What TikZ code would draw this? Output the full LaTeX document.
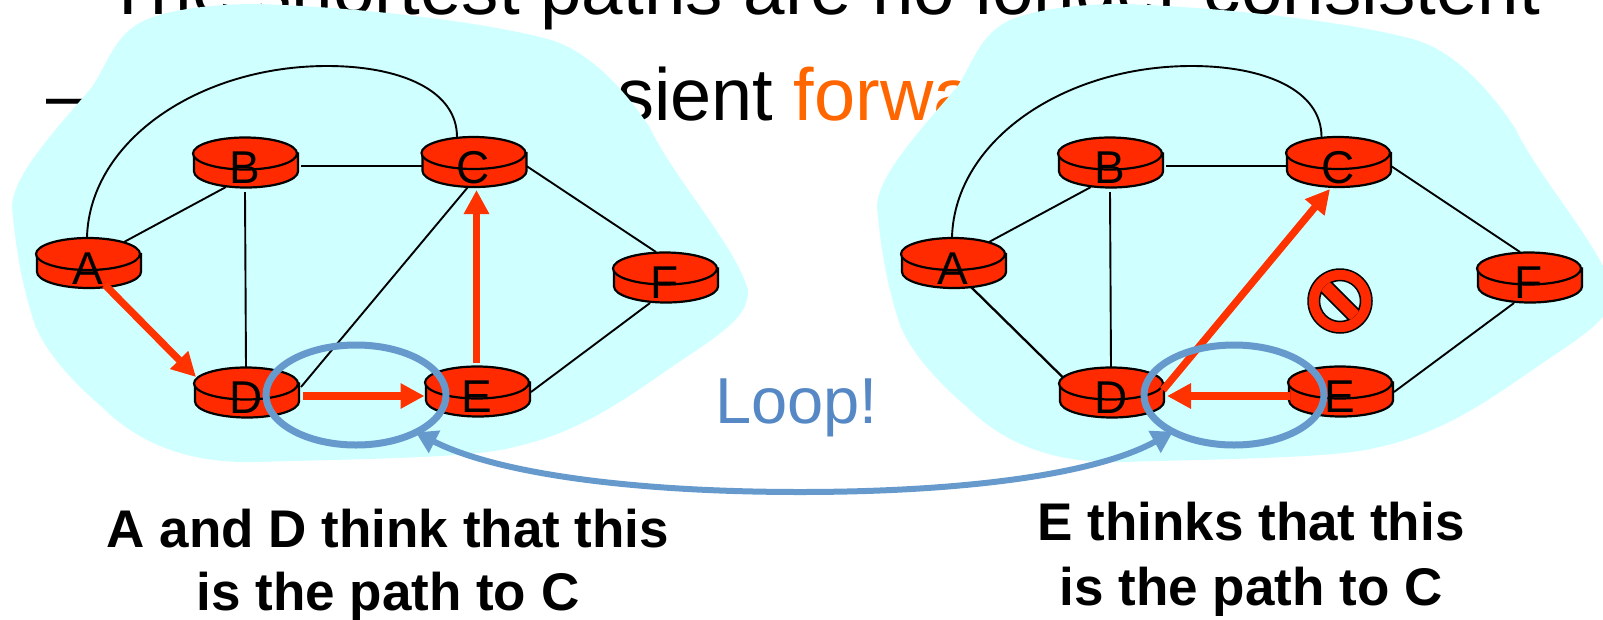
\documentclass[tikz,border=0pt]{standalone}
\usepackage{fontspec}
\setmainfont{Liberation Sans}
\usetikzlibrary{arrows.meta,calc,shapes.geometric}
\definecolor{blobcyan}{HTML}{CFFFFF}
\definecolor{routerred}{HTML}{FF2A00}
\definecolor{arrowred}{HTML}{FF3300}
\definecolor{loopblue}{HTML}{6699CC}
\definecolor{looptext}{HTML}{5588C4}
\definecolor{titleorange}{HTML}{FF6600}
\tikzset{
  x=1pt,y=-1pt,
  routerlabel/.style={rectangle,inner sep=0pt,outer sep=0pt,minimum width=104pt,text width=104pt,align=center,
    text height=46pt,text depth=4pt,font=\fontsize{46}{46}\selectfont},
  routershape/.style={fill=routerred,draw=black,line width=2.2pt},
  linkline/.style={draw=black,line width=1.9pt},
  redarrow/.style={draw=arrowred,line width=7.3pt,-{Triangle[length=24pt,width=24pt,fill=arrowred]}},
  loopring/.style={ellipse,draw=loopblue,line width=7pt,minimum width=180pt,minimum height=100pt,inner sep=0pt,outer sep=0pt},
  looparrow/.style={draw=loopblue,line width=6pt,{Triangle[length=21pt,width=24pt,fill=loopblue]}-{Triangle[length=21pt,width=24pt,fill=loopblue]}},
  titletext/.style={anchor=base west,inner sep=0pt,font=\fontsize{73.9}{75}\selectfont},
  notetext/.style={anchor=base,inner sep=0pt,font=\fontsize{53}{53}\selectfont\bfseries},
}
\newcommand{\rtr}[4]{%
  \path[routershape] (#2-51,#3-9) -- (#2-51,#3+9) .. controls +(0,8.8) and +(-28.6,0) .. (#2+1,#3+25) .. controls +(28.6,0) and +(0,8.8) .. (#2+53,#3+9) -- (#2+53,#3-9) -- cycle;
  \path[routershape] (#2,#3-9) ellipse[x radius=52,y radius=16];
  \node[routerlabel] (#1) at (#2,#3) {#4};
}
\newcommand{\blobshape}[1]{%
  \fill[blobcyan,shift={(#1,0)}] (255,4)
    .. controls (340,6) and (480,20) .. (551,40)
    .. controls (590,52) and (625,90) .. (650,128)
    .. controls (675,180) and (735,245) .. (748,290)
    .. controls (750,320) and (710,340) .. (663,373)
    .. controls (610,410) and (570,435) .. (510,448)
    .. controls (470,458) and (360,459) .. (255,462)
    .. controls (210,463) and (150,455) .. (102,407)
    .. controls (70,380) and (45,350) .. (35,325)
    .. controls (20,280) and (15,240) .. (12,207)
    .. controls (12,175) and (60,125) .. (92,87)
    .. controls (110,60) and (115,30) .. (153,17)
    .. controls (180,8) and (220,4) .. (255,4) -- cycle;
}
\begin{document}
\begin{tikzpicture}
\useasboundingbox (0,0) rectangle (1603,619);
\begin{scope}
\clip (0,0) rectangle (1603,619);
\node[titletext,font=\fontsize{74.6}{75}\selectfont] (title) at (105,14) {The shortest paths are no longer consistent};
\node[titletext] (dash) at (46,120) {–};
\node[titletext] (second) at (617,120) {sient \textcolor{titleorange}{forwa}};
\blobshape{0}
\blobshape{865}
\end{scope}
\rtr{lA}{88}{263}{A}
\rtr{lB}{245}{162.5}{B}
\rtr{lC}{473.5}{162}{C}
\rtr{lD}{246}{392.5}{D}
\rtr{lE}{477}{391.5}{E}
\rtr{lF}{665}{277.5}{F}
\rtr{rA}{953}{263}{A}
\rtr{rB}{1110}{162.5}{B}
\rtr{rC}{1338}{162}{C}
\rtr{rD}{1111}{392.5}{D}
\rtr{rE}{1340}{391.5}{E}
\rtr{rF}{1529}{277.5}{F}
\foreach \p in {l,r}{
  \draw[linkline] ($(\p A)+(36,-21)$) -- ($(\p B)+(-19,24.5)$);
  \draw[linkline] ($(\p B)+(56,3.5)$) -- ($(\p C)+(-51,4)$);
  \draw[linkline] ($(\p C)+(53,4)$) -- ($(\p F)+(-9,-25.5)$);
  \draw[linkline] ($(\p B)+(0,29.5)$) -- ($(\p D)+(0,-25)$);
  \draw[linkline] ($(\p E)+(54,0.5)$) -- ($(\p F)+(-15,25.5)$);
  \draw[linkline] ($(\p A)+(-1,-26)$) .. controls +(3,-97) and +(-127,0) .. ($(\p C)+(-146.5,-96)$)
     .. controls +(73,0) and +(0,-47) .. ($(\p C)+(-16.5,-25)$);
}
\draw[linkline] ($(lC)+(-5.5,25)$) -- ($(lD)+(55,-5.5)$);
\draw[linkline,line width=2.3pt] ($(rA)+(18,24)$) -- ($(rD)+(-48,-15)$);
\draw[redarrow] ($(lA)+(17,22)$) -- ($(lD)+(-50,-15.5)$);
\draw[redarrow] ($(lE)+(-0.5,-28.5)$) -- ($(lC)+(3,28)$);
\draw[redarrow] ($(lD)+(56.5,3.5)$) -- ($(lE)+(-52.5,4.5)$);
\draw[redarrow] ($(rD)+(52,-2.5)$) -- ($(rC)+(-8,27)$);
\draw[redarrow] ($(rE)+(-50,4.5)$) -- ($(rD)+(56,3.5)$);
% no-entry sign
\path[fill=routerred,draw=black,line width=1.5pt] (1340,301) circle[radius=32];
\path[fill=blobcyan,draw=black,line width=1.5pt] (1340,301) circle[radius=20.5];
\begin{scope}
\clip (1340,301) circle[radius=21.2];
\path[fill=routerred,draw=black,line width=1.5pt] (1317,288) -- (1327,278) -- (1363,314) -- (1353,324) -- cycle;
\end{scope}
\node[loopring] (ringL) at (356,395) {};
\node[loopring] (ringR) at (1234,395) {};
\coordinate (bottom) at (800,492);
\draw[looparrow] (ringL.-32) .. controls (500,475) and (640,492) .. (bottom) .. controls (960,492) and (1095,475) .. (ringR.211.5);
\node[anchor=base west,inner sep=0pt,text=looptext,font=\fontsize{65}{65}\selectfont] (loop) at (715,423) {Loop!};
\node[notetext] (n1) at (388,547) {A and D think that this};
\node[notetext] (n2) at (388,610) {is the path to C};
\node[notetext] (n3) at (1251,540) {E thinks that this};
\node[notetext] (n4) at (1251,605) {is the path to C};
\end{tikzpicture}
\end{document}
